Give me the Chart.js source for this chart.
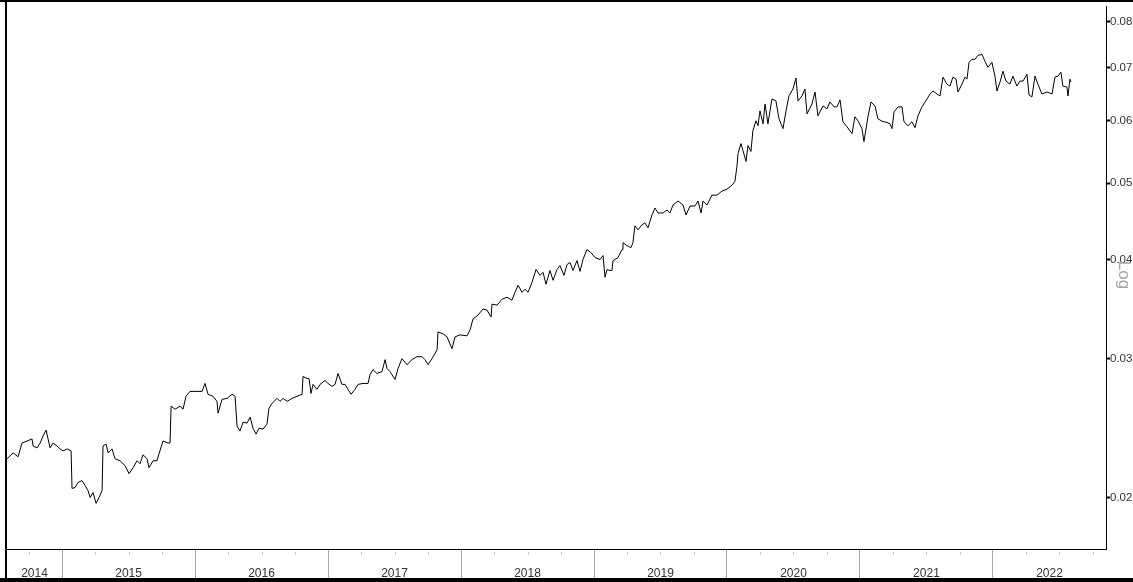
<!DOCTYPE html>
<html>
<head>
<meta charset="utf-8">
<script src="https://cdn.jsdelivr.net/npm/chart.js@4.4.1/dist/chart.umd.min.js"></script>
<style>
  html, body { margin: 0; padding: 0; background: #fff; }
  canvas { display: block; }
</style>
</head>
<body>
<canvas id="chart" width="1133" height="582"></canvas>
<script>
// Ratio series (decimal years, log-scaled values).
const dates = [
  2014.586,2014.632,2014.669,2014.699,2014.737,2014.774,2014.782,2014.812,2014.835,2014.857,2014.880,2014.910,2014.932,2014.962,2014.985,
  2015.008,2015.038,2015.068,2015.075,2015.098,2015.120,2015.150,2015.173,2015.195,2015.211,
  2015.233,2015.256,2015.278,2015.301,2015.308,2015.331,2015.346,2015.376,2015.398,2015.436,
  2015.474,2015.504,2015.534,2015.564,2015.586,2015.609,2015.639,2015.654,2015.684,2015.714,
  2015.729,2015.759,2015.797,2015.812,2015.820,2015.850,2015.887,2015.910,2015.932,2015.962,
  2016.015,2016.053,2016.075,2016.098,2016.135,2016.165,2016.173,2016.203,2016.241,2016.278,
  2016.301,2016.316,2016.338,2016.361,2016.391,2016.414,2016.436,2016.459,2016.481,2016.511,
  2016.541,2016.556,2016.579,2016.617,2016.639,2016.662,2016.692,2016.729,2016.767,2016.805,
  2016.812,2016.842,2016.857,2016.872,2016.887,2016.917,2016.940,2016.977,
  2017.000,2017.030,2017.053,2017.075,2017.105,2017.128,2017.150,2017.173,2017.203,2017.226,
  2017.263,2017.301,2017.316,2017.338,2017.368,2017.406,2017.429,2017.444,2017.466,2017.504,
  2017.526,2017.556,2017.594,2017.632,2017.669,2017.707,2017.729,2017.752,2017.782,2017.820,
  2017.827,2017.865,2017.895,2017.932,2017.955,2017.992,
  2018.045,2018.068,2018.090,2018.128,2018.165,2018.195,2018.226,2018.233,2018.271,2018.308,
  2018.346,2018.383,2018.406,2018.429,2018.459,2018.481,2018.504,2018.534,2018.564,2018.594,
  2018.617,2018.639,2018.669,2018.692,2018.722,2018.744,2018.774,2018.797,2018.820,2018.842,
  2018.872,2018.895,2018.917,2018.947,2018.977,
  2019.008,2019.045,2019.068,2019.083,2019.098,2019.120,2019.135,2019.143,2019.180,2019.211,
  2019.218,2019.248,2019.278,2019.293,2019.308,2019.331,2019.361,2019.383,2019.406,2019.436,
  2019.459,2019.481,2019.519,2019.549,2019.571,2019.594,2019.632,2019.669,2019.692,2019.722,
  2019.759,2019.782,2019.805,2019.820,2019.850,2019.887,2019.925,2019.962,
  2020.000,2020.038,2020.060,2020.075,2020.083,2020.105,2020.120,2020.143,2020.158,2020.180,
  2020.195,2020.218,2020.233,2020.248,2020.271,2020.286,2020.308,2020.338,2020.368,2020.391,
  2020.421,2020.444,2020.466,2020.496,2020.519,2020.534,2020.564,2020.586,2020.602,2020.639,
  2020.662,2020.684,2020.722,2020.752,2020.774,2020.805,2020.827,2020.850,2020.872,2020.902,
  2020.940,2020.962,2020.985,
  2021.015,2021.030,2021.060,2021.083,2021.113,2021.135,2021.173,2021.188,2021.226,2021.241,
  2021.256,2021.286,2021.316,2021.331,2021.361,2021.391,2021.414,2021.436,2021.466,2021.504,
  2021.526,2021.549,2021.579,2021.602,2021.624,2021.654,2021.677,2021.699,2021.722,2021.737,
  2021.767,2021.789,2021.805,2021.820,2021.842,2021.865,2021.887,2021.917,2021.940,2021.962,
  2021.992,
  2022.015,2022.030,2022.053,2022.075,2022.098,2022.128,2022.150,2022.180,2022.203,2022.226,
  2022.256,2022.271,2022.293,2022.316,2022.338,2022.368,2022.406,2022.444,2022.466,2022.489,
  2022.511,2022.526,2022.556,2022.564,2022.579,2022.586,
];

const values = [
  0.02239,0.02278,0.02252,0.02344,0.02358,0.02372,0.02324,0.02311,0.02344,0.02392,0.02434,0.02311,0.02344,0.02324,0.02304,
  0.02291,0.02304,0.02291,0.02053,0.02059,0.02089,0.02101,0.02071,0.02041,0.02000,
  0.02029,0.01966,0.02000,0.02041,0.02324,0.02337,0.02278,0.02304,0.02239,0.02226,
  0.02194,0.02144,0.02181,0.02226,0.02207,0.02265,0.02239,0.02181,0.02226,0.02226,
  0.02271,0.02358,0.02344,0.02344,0.02610,0.02587,0.02610,0.02587,0.02686,0.02725,
  0.02725,0.02725,0.02789,0.02702,0.02686,0.02647,0.02557,0.02662,0.02670,0.02702,
  0.02686,0.02462,0.02427,0.02491,0.02484,0.02528,0.02448,0.02406,0.02448,0.02441,
  0.02477,0.02594,0.02632,0.02670,0.02647,0.02670,0.02647,0.02670,0.02686,0.02702,
  0.02846,0.02830,0.02830,0.02709,0.02781,0.02741,0.02781,0.02813,
  0.02789,0.02765,0.02781,0.02871,0.02781,0.02781,0.02741,0.02702,0.02741,0.02781,
  0.02789,0.02789,0.02863,0.02904,0.02871,0.02887,0.02989,0.02912,0.02887,0.02821,
  0.02912,0.02998,0.02946,0.02989,0.03015,0.03015,0.02989,0.02946,0.02998,0.03077,
  0.03241,0.03222,0.03194,0.03086,0.03194,0.03213,
  0.03204,0.03260,0.03365,0.03405,0.03464,0.03454,0.03385,0.03514,0.03504,0.03565,
  0.03586,0.03555,0.03638,0.03713,0.03638,0.03670,0.03638,0.03745,0.03888,0.03822,
  0.03855,0.03724,0.03877,0.03767,0.03888,0.03933,0.03822,0.03944,0.03967,0.03877,
  0.03990,0.03866,0.04002,0.04120,0.04084,
  0.04025,0.04002,0.04049,0.03800,0.03888,0.03877,0.03877,0.03990,0.04025,0.04120,
  0.04204,0.04168,0.04144,0.04204,0.04416,0.04365,0.04429,0.04454,0.04390,0.04558,
  0.04651,0.04584,0.04584,0.04624,0.04584,0.04692,0.04747,0.04692,0.04558,0.04678,
  0.04678,0.04747,0.04584,0.04747,0.04692,0.04829,0.04829,0.04886,
  0.04914,0.04971,0.05029,0.05252,0.05452,0.05612,0.05500,0.05328,0.05580,0.05484,
  0.05828,0.05998,0.05912,0.06174,0.05946,0.06300,0.05946,0.06392,0.06355,0.06033,
  0.05862,0.06174,0.06448,0.06580,0.06793,0.06355,0.06448,0.06580,0.06120,0.06300,
  0.06523,0.06085,0.06264,0.06210,0.06337,0.06246,0.06246,0.06374,0.05981,0.05895,
  0.05777,0.06068,0.05998,
  0.05862,0.05645,0.06068,0.06337,0.06264,0.06033,0.05981,0.05981,0.05946,0.05862,
  0.06156,0.06246,0.06246,0.05981,0.05912,0.05981,0.05878,0.06085,0.06246,0.06392,
  0.06485,0.06542,0.06485,0.06448,0.06812,0.06675,0.06637,0.06812,0.06773,0.06523,
  0.06675,0.06812,0.06773,0.07113,0.07175,0.07175,0.07258,0.07279,0.07133,0.07011,
  0.07113,
  0.06832,0.06542,0.06714,0.06931,0.06734,0.06675,0.06832,0.06637,0.06734,0.06734,
  0.06871,0.06467,0.06430,0.06832,0.06675,0.06485,0.06523,0.06485,0.06812,0.06832,
  0.06911,0.06637,0.06618,0.06448,0.06773,0.06714,
];

const years = [2014, 2015, 2016, 2017, 2018, 2019, 2020, 2021, 2022];
const yTicks = [0.02, 0.03, 0.04, 0.05, 0.06, 0.07, 0.08];
const quarters = [0.25, 0.5, 0.75];

const X_MIN = 2014.586, X_MAX = 2022.85;
const Y_MIN = 0.01721, Y_MAX = 0.0836;

const FONT = '"Liberation Sans", Arial, sans-serif';

// frame, quarter marks under the axis and the grey "Log" tag
const decor = {
  id: "decor",
  afterDraw(chart) {
    const { ctx, scales, chartArea } = chart;
    const W = chart.width, H = chart.height;
    ctx.save();
    ctx.strokeStyle = "#c8c8c8";
    ctx.lineWidth = 1;
    years.forEach((y) => {
      quarters.forEach((q) => {
        const v = y + q;
        if (v <= X_MIN || v >= X_MAX) return;
        const px = Math.round(scales.x.getPixelForValue(v)) + 0.5;
        ctx.beginPath();
        ctx.moveTo(px, chartArea.bottom + 3);
        ctx.lineTo(px, chartArea.bottom + 6);
        ctx.stroke();
      });
    });

    ctx.fillStyle = "#000";
    ctx.fillRect(0, 0, W, 2);
    ctx.fillRect(5, 0, 2, H);
    ctx.fillRect(0, H - 4, W, 4);

    ctx.translate(1124, 275);
    ctx.rotate(Math.PI / 2);
    ctx.font = "17px " + FONT;
    ctx.fillStyle = "#a4a4a4";
    ctx.textAlign = "center";
    ctx.textBaseline = "middle";
    ctx.fillText("Log", 0, 0);
    ctx.restore();
  },
};

new Chart(document.getElementById("chart"), {
  type: "line",
  data: {
    datasets: [
      {
        data: dates.map((d, i) => ({ x: d, y: values[i] })),
        borderColor: "#000",
        borderWidth: 1,
        pointRadius: 0,
        tension: 0,
      },
    ],
  },
  options: {
    responsive: false,
    animation: false,
    layout: { padding: { left: 7, top: 2, right: 0, bottom: 0 } },
    plugins: { legend: { display: false }, tooltip: { enabled: false } },
    scales: {
      x: {
        type: "linear",
        position: "bottom",
        min: X_MIN,
        max: X_MAX,
        afterBuildTicks(scale) {
          const ticks = [];
          years.forEach((y) => {
            const lo = Math.max(y, X_MIN), hi = Math.min(y + 1, X_MAX);
            ticks.push({ value: (lo + hi) / 2, yr: String(y) });
            if (y > years[0]) ticks.push({ value: y, yr: "" });
          });
          ticks.sort((a, b) => a.value - b.value);
          scale.ticks = ticks;
        },
        afterFit(scale) { scale.height = 33; },
        grid: {
          drawOnChartArea: false,
          drawTicks: true,
          tickLength: 30,
          color: (c) => (c.tick && c.tick.yr ? "rgba(0,0,0,0)" : "#a8a8a8"),
        },
        border: { display: true, color: "#000", width: 1 },
        ticks: {
          autoSkip: false,
          maxRotation: 0,
          minRotation: 0,
          padding: -13,
          color: "#333",
          font: { family: FONT, size: 12 },
          callback: (v, i, t) => t[i].yr,
        },
      },
      y: {
        type: "logarithmic",
        position: "right",
        min: Y_MIN,
        max: Y_MAX,
        afterBuildTicks(scale) {
          scale.ticks = yTicks.map((v) => ({ value: v }));
        },
        afterFit(scale) { scale.width = 27; },
        grid: {
          drawOnChartArea: false,
          drawTicks: true,
          tickLength: 4,
          tickWidth: 2,
          color: "#000",
        },
        border: { display: true, color: "#000", width: 1 },
        ticks: {
          padding: 0,
          color: "#333",
          font: { family: FONT, size: 11.5 },
          callback: (v) => Number(v).toFixed(2),
        },
      },
    },
  },
  plugins: [decor],
});
</script>
</body>
</html>
